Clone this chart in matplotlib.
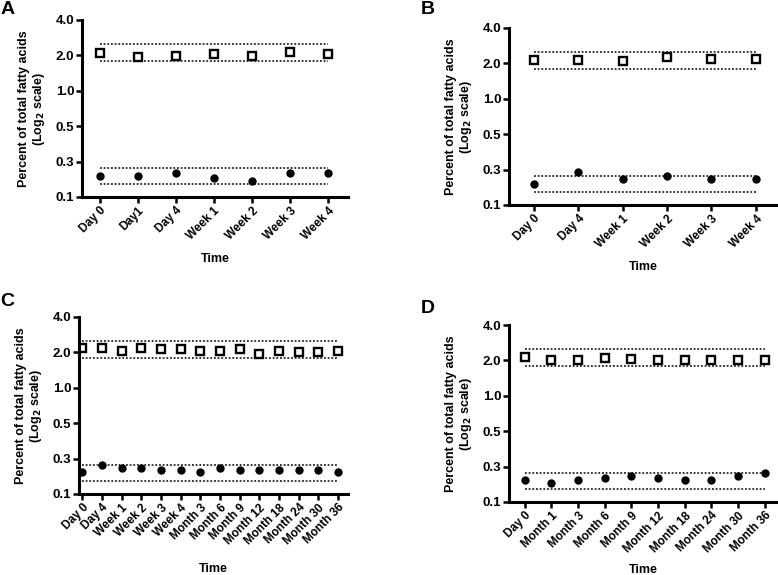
import matplotlib
matplotlib.use("Agg")
import matplotlib.pyplot as plt

plt.rcParams['font.family'] = ['Liberation Sans', 'DejaVu Sans']
plt.rcParams['font.weight'] = 'bold'
plt.rcParams['mathtext.default'] = 'bf'

# panel A
cats_a = ["Day 0", "Day1", "Day 4", "Week 1", "Week 2", "Week 3", "Week 4"]
sq_a = [2.11, 1.95, 1.99, 2.04, 1.98, 2.15, 2.06]
dot_a = [0.190, 0.190, 0.199, 0.180, 0.171, 0.199, 0.199]

# panel B
cats_b = ["Day 0", "Day 4", "Week 1", "Week 2", "Week 3", "Week 4"]
sq_b = [2.12, 2.12, 2.11, 2.26, 2.18, 2.20]
dot_b = [0.188, 0.240, 0.207, 0.221, 0.207, 0.207]

# panel C
cats_c = ["Day 0", "Day 4", "Week 1", "Week 2", "Week 3", "Week 4", "Month 3",
          "Month 6", "Month 9", "Month 12", "Month 18", "Month 24", "Month 30", "Month 36"]
sq_c = [2.16, 2.19, 2.05, 2.16, 2.13, 2.12, 2.07, 2.07, 2.12, 1.94, 2.05, 2.03, 2.03, 2.06]
dot_c = [0.191, 0.221, 0.209, 0.209, 0.201, 0.201, 0.191, 0.209, 0.201, 0.201,
         0.201, 0.201, 0.201, 0.191]

# panel D
cats_d = ["Day 0", "Month 1", "Month 3", "Month 6", "Month 9", "Month 12",
          "Month 18", "Month 24", "Month 30", "Month 36"]
sq_d = [2.14, 2.01, 2.03, 2.08, 2.06, 2.01, 2.02, 2.01, 2.01, 2.01]
dot_d = [0.191, 0.180, 0.191, 0.200, 0.210, 0.200, 0.191, 0.191, 0.210, 0.221]

# reference band (dotted lines)
band_hi = [2.48, 1.80]
band_lo = [0.222, 0.160]

yticks = [0.125, 0.25, 0.5, 1, 2, 4]
ylabels = ["0.1", "0.3", "0.5", "1.0", "2.0", "4.0"]

W, H = 778, 575
fig = plt.figure(figsize=(W / 100, H / 100), dpi=100)


def add_panel(letter, cats, sq, dot, box, xlim, letter_xy, time_pad=8):
    left, top, right, bottom = box
    ax = fig.add_axes([left / W, 1 - bottom / H, (right - left) / W, (bottom - top) / H])
    x = list(range(len(cats)))
    for v in band_hi + band_lo:
        ax.hlines(v, x[0], x[-1], colors='black', linestyles=(0, (1.2, 1.2)), lw=1.1)
    ax.plot(x, sq, 's', ms=5.5, mfc='white', mec='black', mew=1.7, ls='none')
    ax.plot(x, dot, 'o', ms=5, color='black', ls='none')
    ax.set_yscale('log', base=2)
    ax.set_ylim(0.125, 4)
    ax.set_yticks(yticks)
    ax.set_yticklabels(ylabels)
    ax.yaxis.set_minor_locator(matplotlib.ticker.NullLocator())
    ax.set_xlim(*xlim)
    ax.set_xticks(x)
    ax.set_xticklabels(cats, rotation=45, ha='right', rotation_mode='anchor')
    for s in ['top', 'right']:
        ax.spines[s].set_visible(False)
    for s in ['left', 'bottom']:
        ax.spines[s].set_linewidth(2.2)
    ax.tick_params(axis='both', direction='out', length=4, width=1.8, pad=1.5)
    ax.tick_params(axis='y', labelsize=9.5)
    ax.tick_params(axis='x', labelsize=8.5)
    ax.set_ylabel("Percent of total fatty acids\n(Log$_2$ scale)", fontsize=9,
                  fontweight='bold', labelpad=6, linespacing=1.1)
    ax.set_xlabel("Time", fontsize=9, fontweight='bold', labelpad=time_pad)
    fig.text(letter_xy[0] / W, 1 - letter_xy[1] / H, letter, fontsize=14,
             fontweight='bold', va='top', ha='left')
    return ax


add_panel("A", cats_a, sq_a, dot_a, (82, 20, 348, 197), (-0.47, 6.53), (1, 1))
add_panel("B", cats_b, sq_b, dot_b, (509, 28, 778, 205), (-0.56, 5.5), (421, 1))
add_panel("C", cats_c, sq_c, dot_c, (79, 317, 348, 494), (-0.17, 13.5), (0, 293), time_pad=12)
add_panel("D", cats_d, sq_d, dot_d, (509, 325, 778, 502), (-0.59, 9.5), (421, 300), time_pad=7)

fig.savefig("out.png", dpi=100)
